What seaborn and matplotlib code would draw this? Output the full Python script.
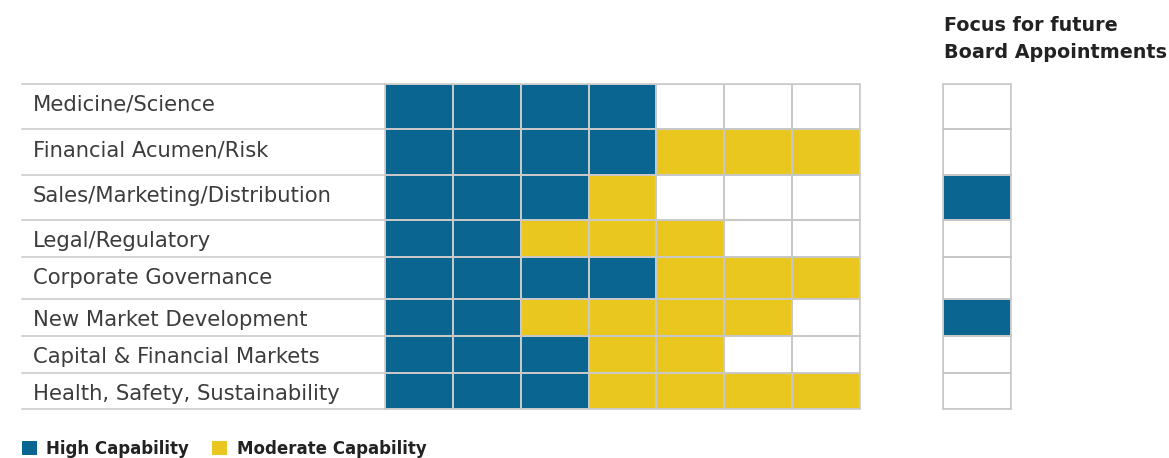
import numpy as np
import seaborn as sns
import matplotlib.pyplot as plt
from matplotlib.colors import ListedColormap
from matplotlib.lines import Line2D
from matplotlib.patches import Patch

plt.rcParams['font.family'] = ['DejaVu Sans']

#------------------------------------------------------------------------------#
# Board skills matrix: 7 directors, each rated per skill
skills = ['Medicine/Science', 'Financial Acumen/Risk',
          'Sales/Marketing/Distribution', 'Legal/Regulatory',
          'Corporate Governance', 'New Market Development',
          'Capital & Financial Markets', 'Health, Safety, Sustainability']
high_count     = [4, 4, 3, 2, 4, 2, 3, 3]
moderate_count = [0, 3, 1, 3, 3, 4, 2, 4]
n_directors    = 7
focus_future   = [0, 0, 1, 0, 0, 1, 0, 0]
level_names    = ['High Capability', 'Moderate Capability']
focus_title    = ['Focus for future', 'Board Appointments']

blue   = '#0A6590'
yellow = '#E9C71E'
grid   = '#C8C8C8'

# layout in pixels (figure is 1169 x 458)
W, H     = 1169, 458
row_h    = [45, 46, 45, 37, 42, 37, 37, 36]
top_px   = 84
grid_x   = (385, 860)
focus_x  = (943, 1011)
label_x0 = 22

#------------------------------------------------------------------------------#

def main():

    # 2 = high, 1 = moderate, 0 = none
    matrix = np.zeros((len(skills), n_directors))
    for i in range(len(skills)):
        matrix[i, :high_count[i]] = 2
        matrix[i, high_count[i]:high_count[i] + moderate_count[i]] = 1
    focus = 2 * np.array(focus_future, dtype=float).reshape(-1, 1)

    cmap = ListedColormap(['white', yellow, blue])

    fig = plt.figure(figsize=(W / 100, H / 100), dpi=100)
    gs_kw = dict(top=1 - top_px / H, bottom=1 - (top_px + sum(row_h)) / H,
                 hspace=0, height_ratios=row_h)
    gs_main  = fig.add_gridspec(len(skills), 1, left=grid_x[0] / W,
                                right=grid_x[1] / W, **gs_kw)
    gs_focus = fig.add_gridspec(len(skills), 1, left=focus_x[0] / W,
                                right=focus_x[1] / W, **gs_kw)

    y = top_px
    fig.add_artist(Line2D([label_x0 / W, grid_x[0] / W], [1 - y / H] * 2,
                          color=grid, lw=1.1, transform=fig.transFigure))
    for i, skill in enumerate(skills):
        for gs, data in ((gs_main, matrix[i:i + 1]), (gs_focus, focus[i:i + 1])):
            ax = fig.add_subplot(gs[i])
            sns.heatmap(data, ax=ax, cmap=cmap, vmin=0, vmax=2, cbar=False,
                        linewidths=1.1, linecolor=grid,
                        xticklabels=False, yticklabels=False)
            for s in ax.spines.values():
                s.set_visible(True)
                s.set_color(grid)
                s.set_linewidth(1.1)

        fig.text(33 / W, 1 - (y + 27) / H, skill, ha='left', va='baseline',
                 fontsize=15.2, color='#3c3c3c')
        y += row_h[i]
        fig.add_artist(Line2D([label_x0 / W, grid_x[0] / W], [1 - y / H] * 2,
                              color=grid, lw=1.1, transform=fig.transFigure))

    fig.text(944 / W, 1 - 31 / H, focus_title[0], ha='left', va='baseline',
             fontsize=13.8, fontweight='bold', color='#222222')
    fig.text(944 / W, 1 - 58.5 / H, focus_title[1], ha='left', va='baseline',
             fontsize=13.8, fontweight='bold', color='#222222')

    handles = [Patch(facecolor=blue), Patch(facecolor=yellow)]
    fig.legend(handles, level_names, loc='lower left',
               bbox_to_anchor=(label_x0 / W, 0.0), ncol=2, frameon=False,
               borderpad=0, borderaxespad=0, handlelength=0.9,
               handleheight=0.9, handletextpad=0.55, columnspacing=1.4,
               prop=dict(size=12, weight='bold'), labelcolor='#222222')

    plt.savefig('out.png', dpi=100)

if __name__ == '__main__':
    main()
